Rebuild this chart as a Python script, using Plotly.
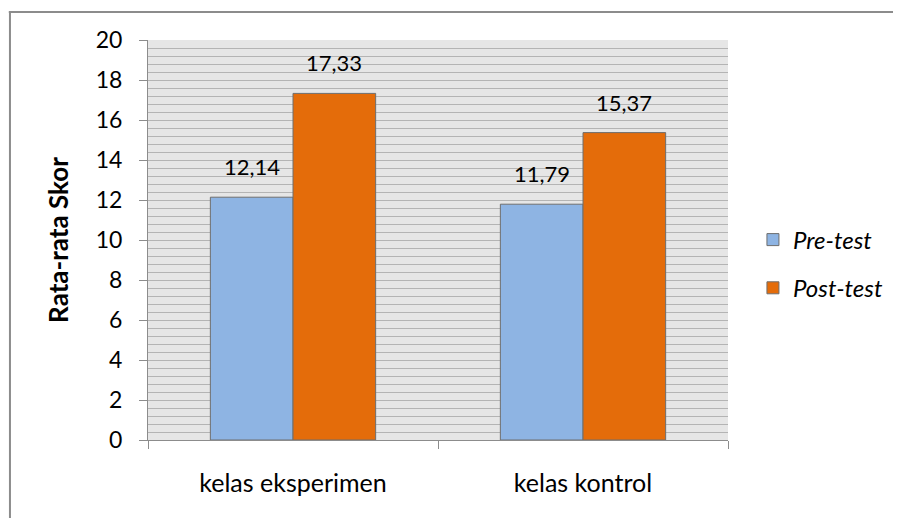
import plotly.graph_objects as go

categories = ["kelas eksperimen", "kelas kontrol"]
pre_test = [12.14, 11.79]
post_test = [17.33, 15.37]
pre_labels = ["12,14", "11,79"]
post_labels = ["17,33", "15,37"]
series_names = ["Pre-test", "Post-test"]
y_ticks = [0, 2, 4, 6, 8, 10, 12, 14, 16, 18, 20]

FONT = "Lato, 'Open Sans', sans-serif"

fig = go.Figure()
fig.add_trace(go.Bar(
    x=categories, y=pre_test, name=series_names[0],
    marker=dict(color="#8EB4E3", line=dict(color="#6E6E6E", width=1)),
    legendgroup="a",
))
fig.add_trace(go.Bar(
    x=categories, y=post_test, name=series_names[1],
    marker=dict(color="#E46C0A", line=dict(color="#6E6E6E", width=1)),
    legendgroup="b",
))

annotations = []
for series, labels, shift in ((pre_test, pre_labels, -41), (post_test, post_labels, 41)):
    for cat, val, lab in zip(categories, series, labels):
        annotations.append(dict(
            x=cat, y=val, text=lab, showarrow=False,
            xref="x", yref="y", yanchor="bottom",
            xshift=shift, yshift=15,
            font=dict(size=22, family=FONT, color="black"),
        ))

border = dict(color="#8C8C8C", width=2)

fig.update_layout(
    width=901, height=518,
    margin=dict(l=140, r=181, t=32, b=86, autoexpand=False),
    paper_bgcolor="white",
    plot_bgcolor="#E6E6E6",
    barmode="group",
    bargap=0.43,
    bargroupgap=0,
    font=dict(family=FONT, color="black", size=20),
    showlegend=True,
    legend=dict(
        x=1.043, y=0.44, xanchor="left", yanchor="middle",
        font=dict(size=24, family=FONT, style="italic"),
        tracegroupgap=14, bgcolor="rgba(0,0,0,0)",
    ),
    xaxis=dict(
        type="category", automargin=False,
        showline=True, linecolor="#8C8C8C", linewidth=1,
        ticks="outside", ticklen=8, tickcolor="#8C8C8C",
        tickson="boundaries",
        tickfont=dict(size=25, family=FONT, color="black"),
        ticklabelstandoff=21,
        showgrid=False,
    ),
    yaxis=dict(
        range=[0, 20], automargin=False,
        tickvals=y_ticks,
        showline=True, linecolor="#8C8C8C", linewidth=1,
        ticks="outside", ticklen=8, tickcolor="#8C8C8C",
        tickfont=dict(size=23, family=FONT, color="black"),
        ticklabelstandoff=12,
        showgrid=True, gridcolor="#B4B4B4", gridwidth=1,
        minor=dict(dtick=0.4, showgrid=True, gridcolor="#B4B4B4", gridwidth=1),
        zeroline=False,
        title=dict(text="<b>Rata-rata Skor</b>", font=dict(size=26, family=FONT), standoff=19),
    ),
    annotations=annotations,
    shapes=[
        dict(type="line", xref="paper", yref="paper",
             x0=-0.238, x1=-0.238, y0=-0.3, y1=1.07, line=border, layer="below"),
        dict(type="line", xref="paper", yref="paper",
             x0=-0.24, x1=1.5, y0=1.07, y1=1.07, line=border, layer="below"),
    ],
)

fig.write_html("out.html")
